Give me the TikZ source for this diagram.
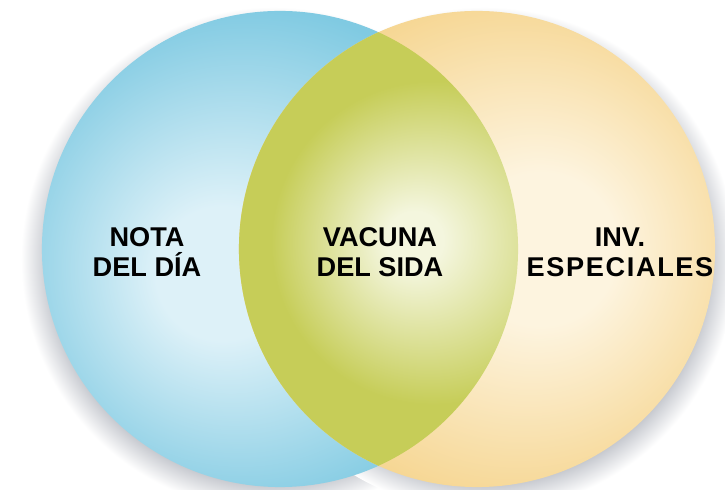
\documentclass[tikz,border=0pt]{standalone}
\usepackage{fontspec}
\newfontfamily\labelfont{Liberation Sans}
\definecolor{notaedge}{HTML}{80CAE2}
\definecolor{notahi}{HTML}{DDF1F8}
\definecolor{invedge}{HTML}{F6D692}
\definecolor{invhi}{HTML}{FDF4DF}
\definecolor{limeedge}{HTML}{C6CD58}
\definecolor{limehi}{HTML}{F4F6DE}
\definecolor{halogray}{HTML}{BFC2C9}
\pgfdeclareradialshading{notaglow}{\pgfpoint{-7bp}{-3bp}}{color(0bp)=(notahi); color(7bp)=(notahi); color(27bp)=(notaedge); color(50bp)=(notaedge)}
\pgfdeclareradialshading{invglow}{\pgfpoint{8bp}{0bp}}{color(0bp)=(invhi); color(8bp)=(invhi); color(27bp)=(invedge); color(50bp)=(invedge)}
\pgfdeclareradialshading{limeglow}{\pgfpoint{-7bp}{1bp}}{color(0bp)=(limehi); color(3bp)=(limehi); color(17bp)=(limeedge); color(50bp)=(limeedge)}
\pgfdeclareradialshading{halo}{\pgforigin}{color(0bp)=(halogray); color(22bp)=(halogray); color(25bp)=(white); color(50bp)=(white)}
\begin{document}
\begin{tikzpicture}[x=0.025cm, y=-0.025cm]
\tikzstyle{ring} = [circle, minimum size=11.9cm, inner sep=0pt, draw opacity=0]
\tikzstyle{tag}  = [align=center, inner sep=0pt, font=\labelfont\bfseries\fontsize{19.3}{21.3}\selectfont]
\useasboundingbox[fill=white] (0,0) rectangle (725,490);
% soft shadows
\path[shading=halo] (273,259) circle[radius=6.3cm];
\path[shading=halo] (484,259) circle[radius=6.3cm];
% the two sets
\node[ring, shading=notaglow] at (280,249) (nota){};
\node[ring, shading=invglow] at (477,249) (inv){};
% overlap
\begin{scope}
\path[clip] (nota.center) circle[radius=5.95cm];
\path[shading=limeglow] (inv.center) circle[radius=5.95cm];
\end{scope}
% labels
\node[tag] at (147,252) (nota_t) {NOTA\\DEL DÍA};
\node[tag] at (380,252) (vacuna_t) {VACUNA\\DEL SIDA};
\node[tag] at (620,252) (inv_t) {INV.\\\addfontfeature{LetterSpace=6}ESPECIALES};
\end{tikzpicture}
\end{document}
